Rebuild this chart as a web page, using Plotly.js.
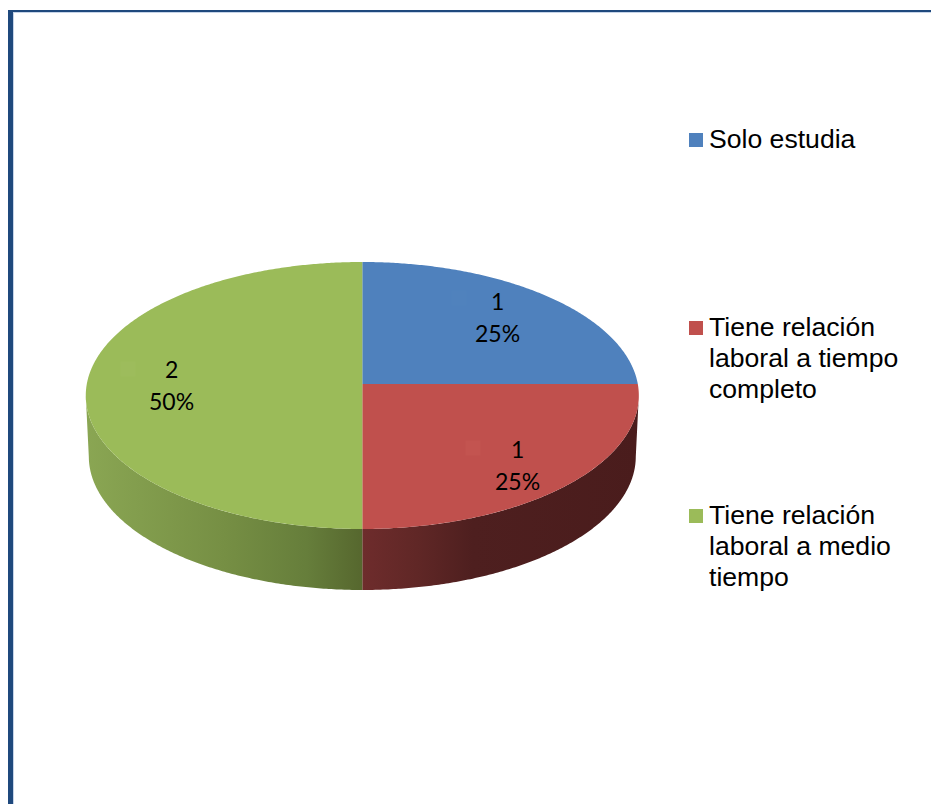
<!DOCTYPE html>
<html>
<head>
<meta charset="utf-8">
<script src="https://cdn.plot.ly/plotly-3.0.1.min.js"></script>
<style>html,body{margin:0;padding:0;background:#fff;overflow:hidden}#c{width:931px;height:804px}</style>
</head>
<body>
<div id="c"></div>
<script>
// Data
var categories = ['Solo estudia', 'Tiene relación laboral a tiempo completo', 'Tiene relación laboral a medio tiempo'];
var values = [1, 1, 2];
var legendLines = [['Solo estudia'], ['Tiene relación', 'laboral a tiempo', 'completo'], ['Tiene relación', 'laboral a medio', 'tiempo']];

// Styles
var topColors = ['#4f81bd', '#c0504d', '#9bbb59'];
var keyTints = ['#5082bd', '#c35450', '#9dbc5c'];
var wallScales = [
  null,
  [[0, '#6e2c2c'], [0.2, '#602726'], [0.4, '#4e1f1f'], [1, '#4a1c1c']],
  [[0, '#8aa653'], [0.5, '#768f44'], [0.8, '#667e3b'], [1, '#56672e']]
];
var frameColor = '#1f497d';

// Geometry of the projected disc
var hubX = 362.3, hubY = 384, radX = 275.5, radY = 132.5, persp = -0.0861, depth = 61, bottomScale = 0.989;
var labelAnchors = [[497, 300.5, 332.5], [517, 448.5, 480.5], [171, 368.5, 400.5]];
var keyAnchors = [[459, 298], [473, 448], [128, 369]];
var legendX = 709.5, legendSwatchX = 696, legendTop = [139, 327, 514.5], legendLineGap = 31;

function project(frac, lower) {
  var th = 2 * Math.PI * frac, u = -Math.cos(th), v = Math.sin(th);
  var d = 1 + persp * u;
  return lower
    ? [hubX + bottomScale * radX * v / d, hubY + radY * u / d + depth]
    : [hubX + radX * v / d, hubY + radY * u / d];
}
function arc(f0, f1, lower) {
  var n = Math.max(2, Math.ceil((f1 - f0) * 720)), pts = [];
  for (var i = 0; i <= n; i++) pts.push(project(f0 + (f1 - f0) * i / n, lower));
  return pts;
}

// silhouette of the disc: the wall is visible between these two fractions
var wallFrom = Math.acos(persp) / (2 * Math.PI), wallTo = 1 - wallFrom;

var total = values.reduce(function (a, b) { return a + b; }, 0);
var walls = [], tops = [], cum = 0, annotations = [];
values.forEach(function (val, i) {
  var f0 = cum / total, f1 = (cum + val) / total;
  cum += val;
  var a = Math.max(f0, wallFrom), b = Math.min(f1, wallTo);
  if (wallScales[i] && b > a) {
    var p = arc(a, b, false).concat(arc(a, b, true).reverse());
    walls.push({
      type: 'scatter', mode: 'none', name: categories[i] + ' (lateral)', hoverinfo: 'skip',
      x: p.map(function (q) { return q[0]; }), y: p.map(function (q) { return q[1]; }),
      fill: 'toself',
      fillgradient: { type: 'horizontal', colorscale: wallScales[i] }
    });
  }
  var t = [[hubX, hubY]].concat(arc(f0, f1, false));
  t.push([hubX, hubY]);
  tops.push({
    type: 'scatter', mode: 'none', name: categories[i], hoverinfo: 'skip',
    x: t.map(function (q) { return q[0]; }), y: t.map(function (q) { return q[1]; }),
    fill: 'toself', fillcolor: topColors[i]
  });
  // data labels
  var lab = labelAnchors[i];
  [String(val), Math.round(100 * val / total) + '%'].forEach(function (s, k) {
    annotations.push({ x: lab[0], y: lab[k + 1], text: s, showarrow: false, xanchor: 'center', yanchor: 'middle',
      font: { family: 'Lato, Open Sans, sans-serif', size: 23, color: '#000' } });
  });
  // legend text
  legendLines[i].forEach(function (s, k) {
    annotations.push({ x: legendX, y: legendTop[i] + k * legendLineGap, text: s, showarrow: false, xanchor: 'left', yanchor: 'middle', xshift: -3,
      font: { family: 'Liberation Sans, Arial, sans-serif', size: 26.6, color: '#000' } });
  });
});

var keys = {
  type: 'scatter', mode: 'markers', hoverinfo: 'skip', name: 'claves',
  x: keyAnchors.map(function (a) { return a[0]; }), y: keyAnchors.map(function (a) { return a[1]; }),
  marker: { symbol: 'square', size: 15, color: keyTints }
};
var swatches = {
  type: 'scatter', mode: 'markers', hoverinfo: 'skip', name: 'leyenda',
  x: categories.map(function () { return legendSwatchX; }), y: [140, 328, 516],
  marker: { symbol: 'square', size: 14, color: topColors }
};

var layout = {
  width: 931, height: 804, showlegend: false,
  margin: { l: 0, r: 0, t: 0, b: 0, pad: 0 },
  paper_bgcolor: '#fff', plot_bgcolor: '#fff',
  xaxis: { range: [0, 931], visible: false, fixedrange: true },
  yaxis: { range: [804, 0], visible: false, fixedrange: true },
  annotations: annotations,
  shapes: [
    { type: 'rect', x0: 13, x1: 14, y0: 12, y1: 804, fillcolor: '#c6d4e8', line: { width: 0 }, layer: 'below' },
    { type: 'rect', x0: 13, x1: 931, y0: 12, y1: 13, fillcolor: '#c6d4e8', line: { width: 0 }, layer: 'below' },
    { type: 'rect', x0: 8, x1: 13, y0: 10, y1: 804, fillcolor: frameColor, line: { width: 0 }, layer: 'below' },
    { type: 'rect', x0: 8, x1: 931, y0: 10, y1: 12, fillcolor: frameColor, line: { width: 0 }, layer: 'below' }
  ]
};

Plotly.newPlot('c', walls.concat(tops, [keys, swatches]), layout, { displayModeBar: false, staticPlot: true });
</script>
</body>
</html>
